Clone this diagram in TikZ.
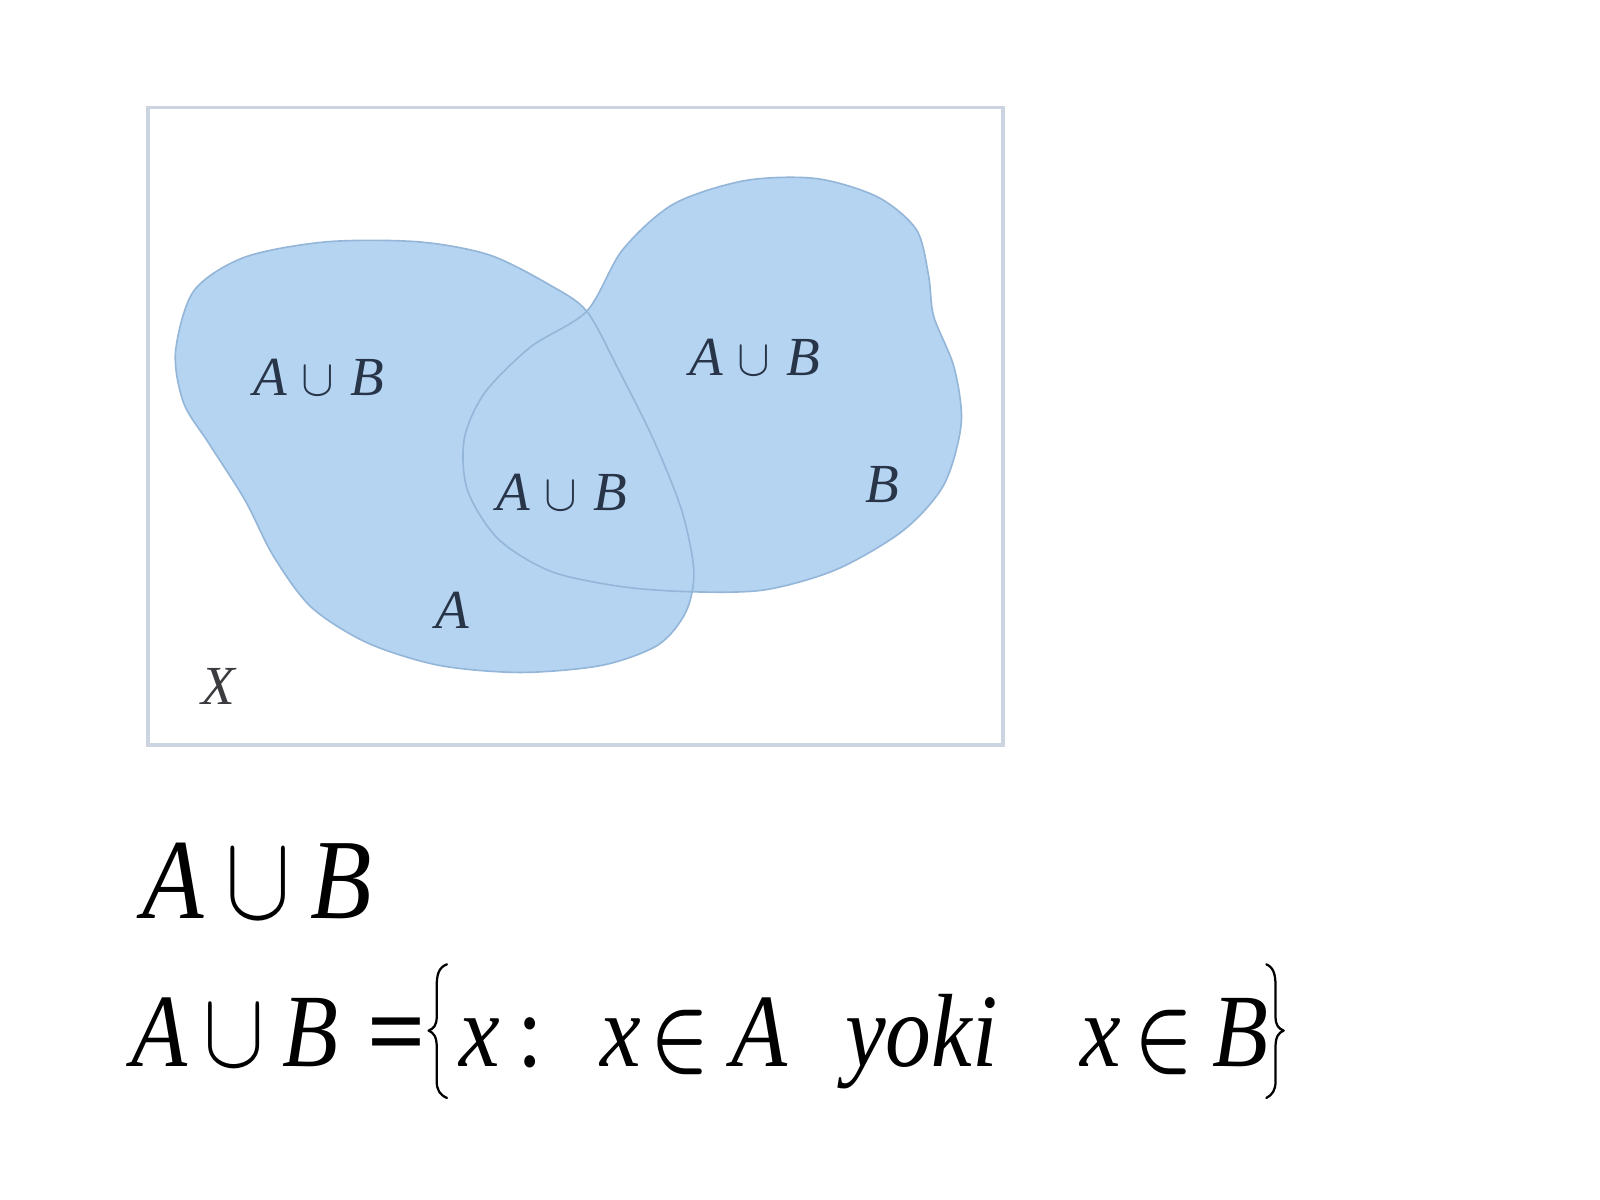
\documentclass[tikz,border=0pt]{standalone}
\usepackage{bm}
\usepackage{fontspec}
\usepackage{graphicx}
\newfontfamily\fm{Liberation Serif}[FakeStretch=0.88]
\newfontfamily\lab{Liberation Serif}
\definecolor{blobfill}{RGB}{181,212,242}
\definecolor{blobline}{RGB}{148,182,216}
\definecolor{framec}{RGB}{204,212,224}
\definecolor{labc}{RGB}{40,52,72}
\definecolor{xc}{RGB}{60,60,64}
\begin{document}
\begin{tikzpicture}[x=0.5pt,y=-0.5pt,
  lbl/.style={inner sep=0pt,text=labc,font=\lab\itshape\fontsize{27}{30}\selectfont},
  bigone/.style={inner sep=0pt,anchor=base west,font=\fm\itshape\fontsize{56}{62}\selectfont},
  bigtwo/.style={inner sep=0pt,anchor=base west,font=\fm\itshape\fontsize{51}{57}\selectfont},
  bracec/.style={line width=1.1pt,line cap=round,line join=round}]
\useasboundingbox (0,0) rectangle (1568,1176);
\fill[white] (0,0) rectangle (1568,1176);
% frame
\draw[framec,line width=1.6pt] (145,105) rectangle (983,730);
% blobs
\fill[blobfill] plot[smooth cycle] coordinates {(172,345) (190,285) (240,252) (320,237) (410,237) (480,250) (540,280) (575,305) (605,360) (640,430) (668,500) (680,560) (672,600) (645,632) (590,652) (510,659) (430,652) (360,630) (305,595) (268,545) (240,490) (205,435) (180,395)};
\fill[blobfill] plot[smooth cycle] coordinates {(575,305) (610,245) (660,200) (730,177) (800,175) (860,193) (898,225) (910,270) (915,310) (935,360) (942,415) (925,475) (885,520) (820,558) (750,578) (680,580) (610,575) (540,560) (488,528) (458,480) (455,430) (475,385) (520,340)};
\draw[blobline,line width=0.8pt] plot[smooth cycle] coordinates {(172,345) (190,285) (240,252) (320,237) (410,237) (480,250) (540,280) (575,305) (605,360) (640,430) (668,500) (680,560) (672,600) (645,632) (590,652) (510,659) (430,652) (360,630) (305,595) (268,545) (240,490) (205,435) (180,395)};
\draw[blobline,line width=0.8pt] plot[smooth cycle] coordinates {(575,305) (610,245) (660,200) (730,177) (800,175) (860,193) (898,225) (910,270) (915,310) (935,360) (942,415) (925,475) (885,520) (820,558) (750,578) (680,580) (610,575) (540,560) (488,528) (458,480) (455,430) (475,385) (520,340)};
% labels in diagram
\node[lbl] (l1) at (312,370) {A\hspace{7pt}\resizebox{16pt}{14pt}{$\cup$}\hspace{8pt}B};
\node[lbl] (l2) at (740,350) {A\hspace{7pt}\resizebox{16pt}{14pt}{$\cup$}\hspace{8pt}B};
\node[lbl] (l3) at (551,483) {A\hspace{7pt}\resizebox{16pt}{14pt}{$\cup$}\hspace{8pt}B};
\node[lbl] (lb) at (865,475) {B};
\node[lbl] (la) at (443,598) {A};
\node[lbl,text=xc] (lx) at (214,673) {X};
% line 1
\node[bigone] (t1a) at (139,900) {A};
\node[bigone] (t1u) at (221,900) {\resizebox{32pt}{33pt}{$\cup$}};
\node[bigone] (t1b) at (304,900) {B};
% line 2
\node[bigtwo] (t2a) at (128,1045) {A};
\node[bigtwo] (t2u) at (199,1045) {\resizebox{30pt}{29.5pt}{$\cup$}};
\node[bigtwo] (t2b) at (276,1045) {B};
\node[bigtwo,font=\fm\bfseries\fontsize{51}{57}\selectfont] (t2eq) at (360,1045) {\scalebox{1.12}[1]{=}};
\node[bigtwo] (t2x) at (450,1045) {x};
\node[bigtwo,font=\fm\fontsize{51}{57}\selectfont] (t2c) at (507,1045) {:};
\node[bigtwo] (t2x2) at (588,1045) {x};
\node[bigtwo] (t2in) at (637,1045) {\resizebox{29pt}{27.5pt}{$\bm{\in}$}};
\node[bigtwo] (t2a2) at (716,1045) {A};
\node[bigtwo] (t2yoki) at (828,1045) {yoki};
\node[bigtwo] (t2x3) at (1058,1045) {x};
\node[bigtwo] (t2in2) at (1111,1045) {\resizebox{29pt}{27.5pt}{$\bm{\in}$}};
\node[bigtwo] (t2b2) at (1188,1045) {B};
% braces
\draw[bracec] (438,945) .. controls (430,948) and (428,955) .. (428,966) -- (428,996) .. controls (428,1005) and (425,1008) .. (420,1010) .. controls (425,1012) and (428,1016) .. (428,1026) -- (428,1060) .. controls (428,1068) and (431,1073) .. (438,1076);
\draw[bracec] (1241,945) .. controls (1248,948) and (1250,955) .. (1250,966) -- (1250,996) .. controls (1250,1005) and (1253,1008) .. (1258,1010) .. controls (1253,1012) and (1250,1016) .. (1250,1026) -- (1250,1060) .. controls (1250,1068) and (1247,1073) .. (1241,1076);
\end{tikzpicture}
\end{document}
